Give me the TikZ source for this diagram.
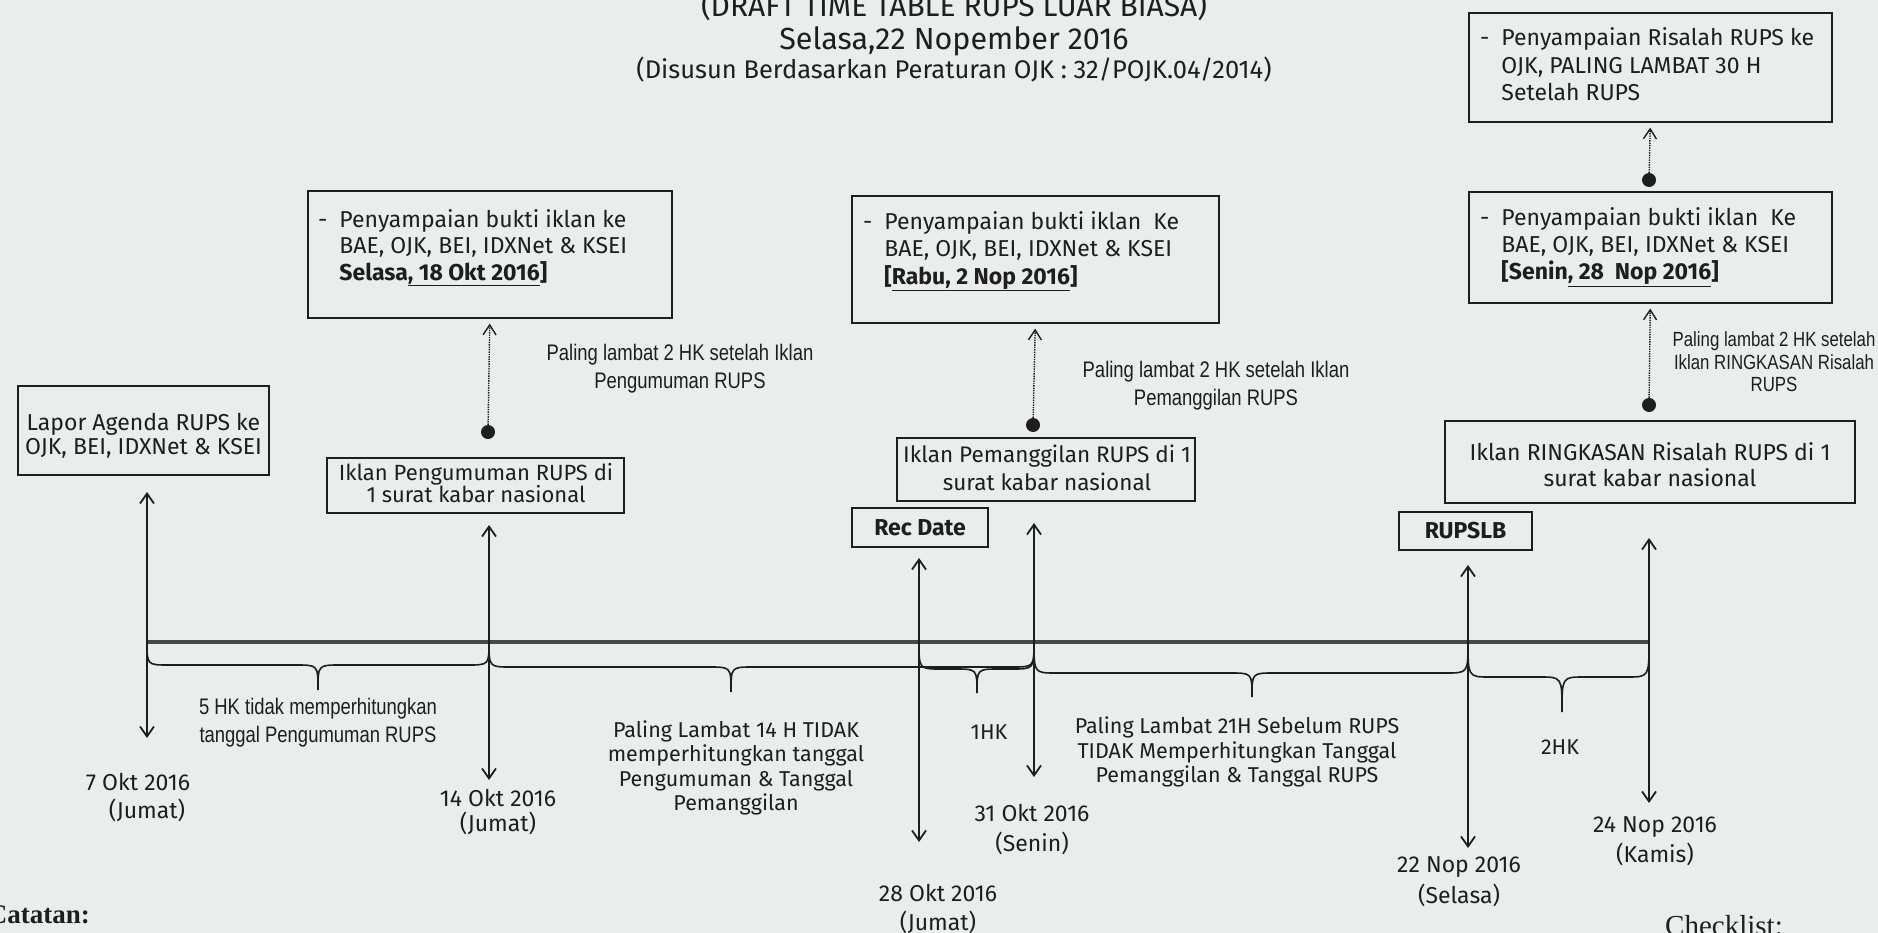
\documentclass[tikz,border=0pt]{standalone}
\usepackage{fontspec}
\setmainfont{Fira Sans}
\newfontfamily\narrowfont[FakeStretch=0.82]{Liberation Sans}
\newfontfamily\seriffont{Liberation Serif}
\usetikzlibrary{arrows.meta}
\definecolor{bgc}{RGB}{233,237,235}
\definecolor{ink}{RGB}{30,30,30}
\newcommand\tlbrace[5]{\draw[brace] (#1,642) .. controls (#1,#4) .. ({#1+22},#4) -- ({#3-22},#4) .. controls (#3,#4) .. (#3,#5) .. controls (#3,#4) .. ({#3+22},#4) -- ({#2-22},#4) .. controls (#2,#4) .. (#2,642);}
\begin{document}
\begin{tikzpicture}[x=1pt,y=-1pt,
  box/.style={draw=ink, line width=1.6pt, inner sep=0pt},
  boxtxt/.style={inner sep=0pt, anchor=base west, text=ink},
  ctxt/.style={inner sep=0pt, align=center, text=ink},
  tag/.style={draw=ink, line width=1.6pt, inner sep=0pt, text=ink, font=\bfseries\fontsize{23}{26}\selectfont},
  varrow/.style={draw=ink, line width=1.8pt, {Straight Barb[length=10pt,width=14pt]}-{Straight Barb[length=10pt,width=14pt]}},
  dotarrow/.style={draw=ink, line width=1.4pt, densely dotted, -{Straight Barb[length=10pt,width=13pt]}, shorten >=5pt},
  dotnode/.style={circle, fill=ink, inner sep=0pt, minimum size=14pt},
  timeline/.style={line width=3.5pt, draw=black!72},
  brace/.style={line width=1.6pt, draw=ink},
  date/.style={inner sep=0pt, text=ink, font=\fontsize{23}{26}\selectfont},
  lbl/.style={inner sep=0pt, align=center, text=ink, font=\fontsize{21.5}{24.5}\selectfont},
  nlbl/.style={inner sep=0pt, align=center, text=ink, font=\narrowfont\fontsize{22.5}{28}\selectfont},
  title/.style={inner sep=0pt, anchor=base, text=ink}]
\useasboundingbox (0,0) rectangle (1878,933);
\clip (0,0) rectangle (1878,933);
\fill[bgc] (0,0) rectangle (1878,933);

% title
\node[title, font=\fontsize{30}{32}\selectfont] (ti1) at (954,17) {(DRAFT TIME TABLE RUPS LUAR BIASA)};
\node[title, font=\fontsize{30.5}{32}\selectfont] (ti2) at (954,50) {Selasa,22 Nopember 2016};
\node[title, font=\fontsize{25.5}{28}\selectfont] (ti3) at (954,79) {(Disusun Berdasarkan Peraturan OJK : 32/POJK.04/2014)};

% boxes with lists
\node[box, anchor=north west, minimum width=364pt, minimum height=127pt] (bB) at (307,190) {};
\node[boxtxt, font=\fontsize{23}{25.5}\selectfont] (tB) at (318,228) {\begin{tabular}[t]{@{}l@{\hspace{12pt}}l@{}}-&Penyampaian bukti iklan ke\\&BAE, OJK, BEI, IDXNet \& KSEI\\&\textbf{Selasa\underline{, 18 Okt 2016}]}\end{tabular}};

\node[box, anchor=north west, minimum width=367pt, minimum height=127pt] (bD) at (851,195) {};
\node[boxtxt, font=\fontsize{23}{27}\selectfont] (tD) at (863,230) {\begin{tabular}[t]{@{}l@{\hspace{12pt}}l@{}}-&Penyampaian bukti iklan\ \ Ke\\&BAE, OJK, BEI, IDXNet \& KSEI\\&\textbf{[\underline{Rabu, 2 Nop 2016}]}\end{tabular}};

\node[box, anchor=north west, minimum width=363pt, minimum height=109pt] (bF) at (1468,12) {};
\node[boxtxt, font=\fontsize{23}{27.5}\selectfont] (tF) at (1480,46) {\begin{tabular}[t]{@{}l@{\hspace{12pt}}l@{}}-&Penyampaian Risalah RUPS ke\\&OJK, PALING LAMBAT 30 H\\&Setelah RUPS\end{tabular}};

\node[box, anchor=north west, minimum width=363pt, minimum height=111pt] (bG) at (1468,191) {};
\node[boxtxt, font=\fontsize{23}{26.5}\selectfont] (tG) at (1480,226) {\begin{tabular}[t]{@{}l@{\hspace{12pt}}l@{}}-&Penyampaian bukti iklan\ \ Ke\\&BAE, OJK, BEI, IDXNet \& KSEI\\&\textbf{[Senin\underline{, 28\ \ Nop 2016}]}\end{tabular}};

% centred boxes
\node[box, minimum width=251pt, minimum height=89pt] (bA) at (143.5,430.5) {};
\node[ctxt, font=\fontsize{23}{23.5}\selectfont] (tA) at (143.5,436) {Lapor Agenda RUPS ke\\OJK, BEI, IDXNet \& KSEI};
\node[box, minimum width=297pt, minimum height=55pt] (bC) at (475.5,485.5) {};
\node[ctxt, font=\fontsize{22}{22.5}\selectfont] (tC) at (476,483) {Iklan Pengumuman RUPS di\\1 surat kabar nasional};
\node[box, minimum width=298pt, minimum height=63pt] (bE) at (1046,469.5) {};
\node[ctxt, font=\fontsize{22.5}{28}\selectfont] (tE) at (1047,467.5) {Iklan Pemanggilan RUPS di 1\\surat kabar nasional};
\node[box, minimum width=410pt, minimum height=82pt] (bH) at (1650,462) {};
\node[ctxt, font=\fontsize{23}{26}\selectfont] (tH) at (1650,465) {Iklan RINGKASAN Risalah RUPS di 1\\surat kabar nasional};
\node[tag, minimum width=136pt, minimum height=39pt] (rec) at (920,527.5) {Rec Date};
\node[tag, minimum width=133pt, minimum height=38pt] (rups) at (1465.5,531) {RUPSLB};

% dots and dotted arrows
\node[dotnode] (p1) at (488,432) {};
\node[dotnode] (p2) at (1033,425) {};
\node[dotnode] (p3) at (1649,405) {};
\node[dotnode] (p4) at (1649,180) {};
\draw[dotarrow] (p1) -- (bB.south);
\draw[dotarrow] (p2) -- (bD.south);
\draw[dotarrow] (p3) -- (bG.south);
\draw[dotarrow] (p4) -- (bF.south);

\node[nlbl] (n1) at (680,369) {Paling lambat 2 HK setelah Iklan\\Pengumuman RUPS};
\node[nlbl] (n2) at (1216,386) {Paling lambat 2 HK setelah Iklan\\Pemanggilan RUPS};
\node[nlbl, font=\narrowfont\fontsize{20.5}{22.5}\selectfont] (n3) at (1774,362) {Paling lambat 2 HK setelah\\Iklan RINGKASAN Risalah\\RUPS};

% timeline
\coordinate (t1) at (147,642);
\coordinate (t6) at (1649,642);
\draw[timeline] (t1) -- (t6);

% braces
\tlbrace{147}{489}{318}{665}{690}
\tlbrace{489}{1034}{731}{667}{692}
\tlbrace{919}{1034}{977}{669}{693}
\tlbrace{1034}{1468}{1252}{673}{697}
\tlbrace{1468}{1649}{1562}{677}{712}

% vertical arrows
\coordinate (a1t) at (147,492); \coordinate (a1b) at (147,738);
\coordinate (a2t) at (489,525); \coordinate (a2b) at (489,780);
\coordinate (a3t) at (919,558); \coordinate (a3b) at (919,842);
\coordinate (a4t) at (1034,523); \coordinate (a4b) at (1034,777);
\coordinate (a5t) at (1468,565); \coordinate (a5b) at (1468,848);
\coordinate (a6t) at (1649,538); \coordinate (a6b) at (1649,803);
\draw[varrow] (a1t) -- (a1b);
\draw[varrow] (a2t) -- (a2b);
\draw[varrow] (a3t) -- (a3b);
\draw[varrow] (a4t) -- (a4b);
\draw[varrow] (a5t) -- (a5b);
\draw[varrow] (a6t) -- (a6b);

% brace labels
\node[nlbl] (g1) at (318,723) {5 HK tidak memperhitungkan\\tanggal Pengumuman RUPS};
\node[lbl] (g2) at (736,768) {Paling Lambat 14 H TIDAK\\memperhitungkan tanggal\\Pengumuman \& Tanggal\\Pemanggilan};
\node[lbl] (g3) at (989,732) {1HK};
\node[lbl] (g4) at (1237,752) {Paling Lambat 21H Sebelum RUPS\\TIDAK Memperhitungkan Tanggal\\Pemanggilan \& Tanggal RUPS};
\node[lbl] (g5) at (1560,747) {2HK};

% dates
\node[date] (d1a) at (138,782) {7 Okt 2016};
\node[date] (d1b) at (147,810) {(Jumat)};
\node[date] (d2a) at (498,798) {14 Okt 2016};
\node[date] (d2b) at (498,823) {(Jumat)};
\node[date] (d3a) at (938,893) {28 Okt 2016};
\node[date] (d3b) at (938,922) {(Jumat)};
\node[date] (d4a) at (1032,813) {31 Okt 2016};
\node[date] (d4b) at (1032,843) {(Senin)};
\node[date] (d5a) at (1459,867) {22 Nop 2016};
\node[date] (d5b) at (1459,895) {(Selasa)};
\node[date] (d6a) at (1655,827) {24 Nop 2016};
\node[date] (d6b) at (1655,854) {(Kamis)};

% notes
\node[inner sep=0pt, anchor=base east, text=ink, font=\seriffont\bfseries\fontsize{27}{30}\selectfont] (cat) at (90,923) {Catatan:};
\node[inner sep=0pt, anchor=base west, text=ink, font=\seriffont\fontsize{29}{30}\selectfont] (chk) at (1665,935) {Checklist:};
\end{tikzpicture}
\end{document}
